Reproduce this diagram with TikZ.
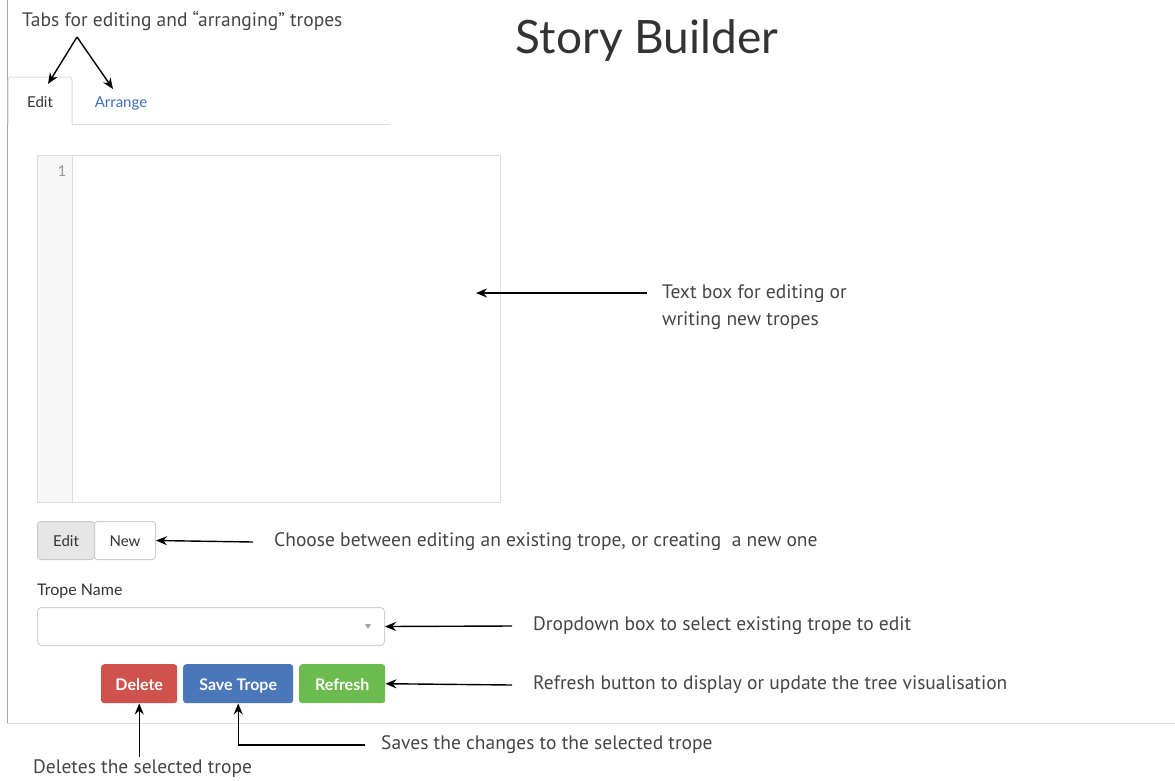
\documentclass[tikz,border=0pt]{standalone}
\usepackage{fontspec}
\setmainfont{PT Sans}
\newfontfamily\uifont{Lato}
\newfontfamily\titlefont{Lato}
\usetikzlibrary{arrows.meta}

\definecolor{annotext}{HTML}{454545}
\definecolor{uitext}{HTML}{333333}
\definecolor{linkblue}{HTML}{3F6DBF}
\definecolor{panelline}{HTML}{DDDDDD}
\definecolor{gutterfill}{HTML}{F7F7F7}
\definecolor{btnred}{HTML}{D0524D}
\definecolor{btnblue}{HTML}{4A76BA}
\definecolor{btngreen}{HTML}{6BBB4E}
\definecolor{groupfill}{HTML}{E6E6E6}

\tikzset{
  anno/.style={font=\fontsize{19.5}{23}\selectfont, text=annotext, inner sep=0pt, anchor=west},
  uilabel/.style={font=\uifont\fontsize{15}{18}\selectfont, text=uitext, inner sep=0pt,
                  text height=12.5pt, text depth=0pt},
  btn/.style={rounded corners=3pt, minimum height=39pt, inner sep=0pt, anchor=north west,
              text=white, font=\uifont\bfseries\fontsize{16}{18}\selectfont,
              text height=14pt, text depth=0pt},
  pointer/.style={draw=black, line width=1.4pt, -{Stealth[length=11pt,width=9pt]}},
}

\begin{document}
\begin{tikzpicture}[x=1pt,y=-1pt]
\useasboundingbox (0,0) rectangle (1175,780);

% page frame
\draw[gray!70, line width=0.8pt] (7,0) -- (7,723);
\draw[panelline, line width=1pt] (7,723) -- (1175,723);

% title
\node[font=\titlefont\fontsize{46}{54}\selectfont, text=uitext, inner sep=0pt] (title) at (647,40) {Story Builder};

% tabs
\draw[panelline, line width=1pt, rounded corners=3pt] (8,124) -- (8,77) -- (72,77) -- (72,124);
\draw[panelline, line width=1pt] (72,124) -- (390,124);
\node[uilabel] (edittab) at (40,101) {Edit};
\node[uilabel, text=linkblue] (arrangetab) at (121,101) {Arrange};

% text editor
\node[draw=panelline, line width=1pt, fill=white, minimum width=463pt, minimum height=347pt,
      inner sep=0pt, anchor=north west] (editor) at (37,155) {};
\node[draw=panelline, line width=1pt, fill=gutterfill, minimum width=35pt, minimum height=347pt,
      inner sep=0pt, anchor=north west] (gutter) at (37,155) {};
\node[font=\uifont\fontsize{15}{18}\selectfont, text=gray!80, inner sep=0pt] (lineno) at (62,171) {1};

% edit / new toggle
\node[draw=gray!40, line width=1pt, fill=groupfill, minimum width=57pt, minimum height=38pt,
      anchor=north west, rounded corners=3pt, uilabel] (modeedit) at (37,521) {Edit};
\node[draw=gray!40, line width=1pt, fill=white, minimum width=61pt, minimum height=38pt,
      anchor=north west, rounded corners=3pt, uilabel] (modenew) at (94,521) {New};

% trope name dropdown
\node[uilabel, anchor=west, font=\uifont\fontsize{16}{18}\selectfont] (tropelabel) at (37,589) {Trope Name};
\node[draw=gray!35, line width=1pt, rounded corners=4pt, minimum width=347pt, minimum height=38pt,
      inner sep=0pt, anchor=north west] (dropdown) at (37,607) {};
\fill[gray!70] (365,624) -- (371,624) -- (368,629) -- cycle;

% action buttons
\node[btn, fill=btnred, minimum width=76pt] (delbtn) at (101,664) {Delete};
\node[btn, fill=btnblue, minimum width=110pt] (savebtn) at (183,664) {Save Trope};
\node[btn, fill=btngreen, minimum width=86pt] (refreshbtn) at (299,664) {Refresh};

% annotations
\node[anno] (tabsnote) at (22,21) {Tabs for editing and “arranging” tropes};
\node[anno, align=left, font=\fontsize{19.5}{27}\selectfont] (editornote) at (662,307) {Text box for editing or\\writing new tropes};
\node[anno] (modenote) at (274,542) {Choose between editing an existing trope, or creating\ \ a new one};
\node[anno] (dropnote) at (533,626) {Dropdown box to select existing trope to edit};
\node[anno] (refreshnote) at (533,685) {Refresh button to display or update the tree visualisation};
\node[anno] (savenote) at (381,745) {Saves the changes to the selected trope};
\node[anno] (delnote) at (33,769) {Deletes the selected trope};

% pointers
\coordinate (tabsfork) at (77,37);
\coordinate (editorstart) at (647,293);
\coordinate (editortip) at (476,293);
\draw[pointer] (tabsfork) -- (48,84);
\draw[pointer] (tabsfork) -- (113,89);
\draw[pointer] (editorstart) -- (editortip);
\draw[pointer] ([xshift=-21pt]modenote.west) -- (modenew.east);
\draw[pointer] ([xshift=-21pt]dropnote.west) -- (dropdown.east);
\draw[pointer] ([xshift=-21pt]refreshnote.west) -- (refreshbtn.east);
\draw[pointer] ([xshift=-16pt]savenote.west) -| (savebtn.south);
\draw[pointer] ([yshift=3pt]delbtn.south |- delnote.north) -- (delbtn.south);
\end{tikzpicture}
\end{document}
